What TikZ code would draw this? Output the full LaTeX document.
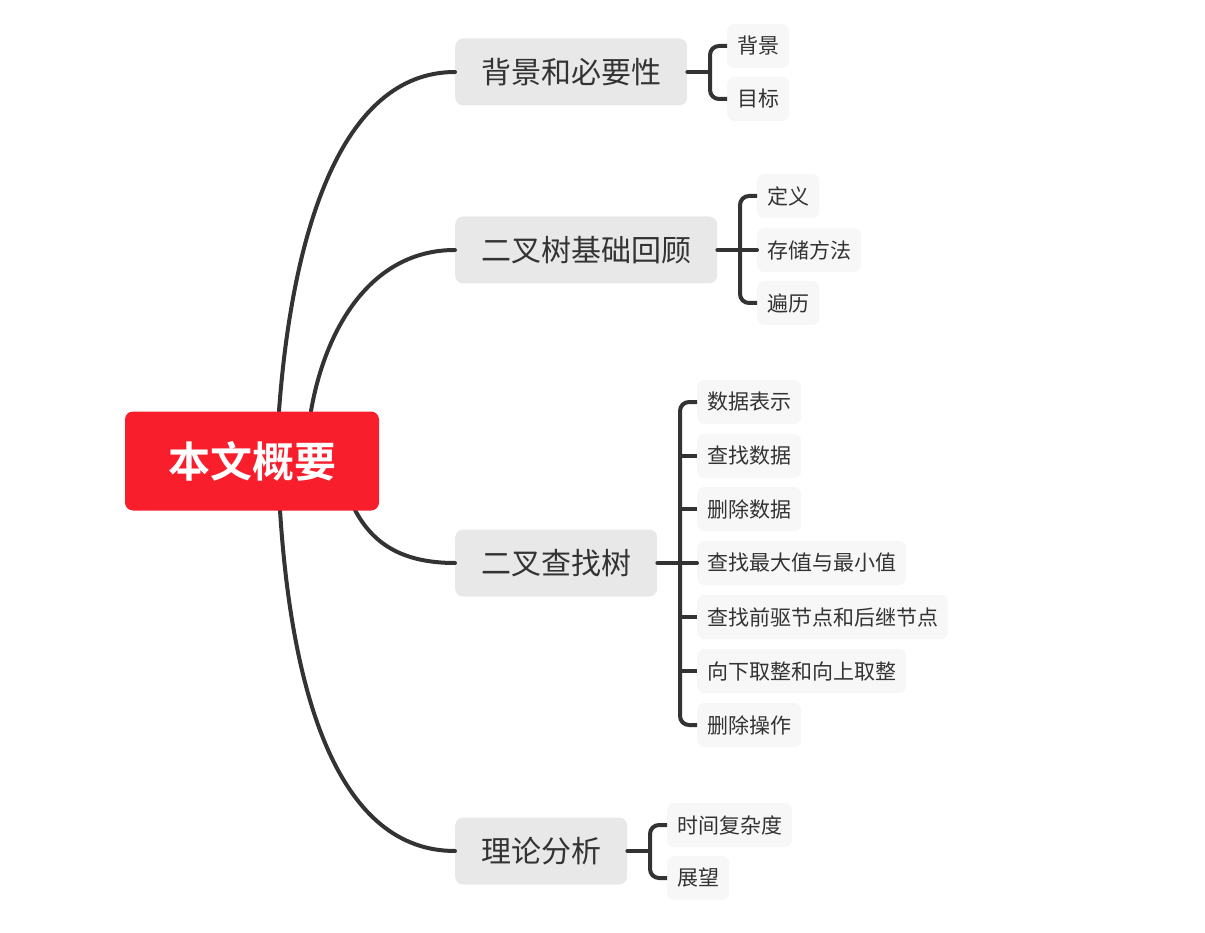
\documentclass[tikz,border=0pt]{standalone}
\usepackage{fontspec}
\newfontfamily\cjk{Noto Sans CJK SC}[BoldFont={Noto Sans CJK SC Bold}]
\usetikzlibrary{calc}
\definecolor{ln}{HTML}{333333}
\definecolor{txt}{HTML}{333333}
\definecolor{rootred}{HTML}{F81E2C}
\definecolor{brgray}{HTML}{E8E8E8}
\definecolor{leafgray}{HTML}{F7F7F7}
\tikzset{
  rootbox/.style={fill=rootred, rounded corners=8pt, minimum width=254pt, minimum height=99pt, text=white, inner sep=0pt, font=\cjk\bfseries\fontsize{42}{42}\selectfont},
  branchbox/.style={fill=brgray, rounded corners=8pt, minimum height=67pt, inner xsep=26pt, inner ysep=0pt, anchor=west, text=txt, font=\cjk\fontsize{30}{30}\selectfont},
  leafbox/.style={fill=leafgray, rounded corners=7pt, minimum height=44pt, inner xsep=10pt, inner ysep=0pt, anchor=west, text=txt, font=\cjk\fontsize{21}{21}\selectfont},
  conn/.style={draw=ln, line width=4pt, line cap=round},
  brace/.style={draw=ln, line width=4pt, rounded corners=9pt},
}
\begin{document}
\begin{tikzpicture}[x=1pt,y=-1pt]
\useasboundingbox (0,0) rectangle (1205,933);
% branch boxes
\node[branchbox] (b1) at (455,72) {背景和必要性};
\node[branchbox] (b2) at (455,250) {二叉树基础回顾};
\node[branchbox] (b3) at (455,563) {二叉查找树};
\node[branchbox] (b4) at (455,851) {理论分析};
% main curves
\coordinate (r1) at (279,411);
\coordinate (r2) at (311,411);
\coordinate (r3) at (355,510);
\coordinate (r4) at (280,510);
\draw[conn] (r1) .. controls (292,235) and (340,72) .. (b1.west);
\draw[conn] (r2) .. controls (325,330) and (370,250) .. (b2.west);
\draw[conn] (r3) .. controls (372,542) and (400,563) .. (b3.west);
\draw[conn] (r4) .. controls (292,700) and (340,851) .. (b4.west);
% root
\node[rootbox] (root) at (252,461) {本文概要};
% leaves
\node[leafbox] (l1a) at (727,46) {背景};
\node[leafbox] (l1b) at (727,99) {目标};
\node[leafbox] (l2a) at (757,196) {定义};
\node[leafbox] (l2b) at (757,250) {存储方法};
\node[leafbox] (l2c) at (757,303) {遍历};
\node[leafbox] (l3a) at (697,402) {数据表示};
\node[leafbox] (l3b) at (697,456) {查找数据};
\node[leafbox] (l3c) at (697,509) {删除数据};
\node[leafbox] (l3d) at (697,563) {查找最大值与最小值};
\node[leafbox] (l3e) at (697,617) {查找前驱节点和后继节点};
\node[leafbox] (l3f) at (697,671) {向下取整和向上取整};
\node[leafbox] (l3g) at (697,725) {删除操作};
\node[leafbox] (l4a) at (667,825) {时间复杂度};
\node[leafbox] (l4b) at (667,878) {展望};
% braces
\coordinate (k1) at ($(l1a.west |- b1.east)+(-17,0)$);
\draw[brace] (l1a.west) -| (k1) |- (l1b.west);
\draw[conn] (b1.east) -- (k1);
\coordinate (k2) at ($(l2a.west |- b2.east)+(-17,0)$);
\draw[brace] (l2a.west) -| (k2) |- (l2c.west);
\draw[conn] (b2.east) -- (l2b.west);
\coordinate (k3) at ($(l3a.west |- b3.east)+(-17,0)$);
\draw[brace] (l3a.west) -| (k3) |- (l3g.west);
\draw[conn] (b3.east) -- (l3d.west);
\foreach \n in {l3b,l3c,l3e,l3f} \draw[conn, line cap=butt] (\n.west) -- (\n.west -| k3);
\coordinate (k4) at ($(l4a.west |- b4.east)+(-17,0)$);
\draw[brace] (l4a.west) -| (k4) |- (l4b.west);
\draw[conn] (b4.east) -- (k4);
\end{tikzpicture}
\end{document}
